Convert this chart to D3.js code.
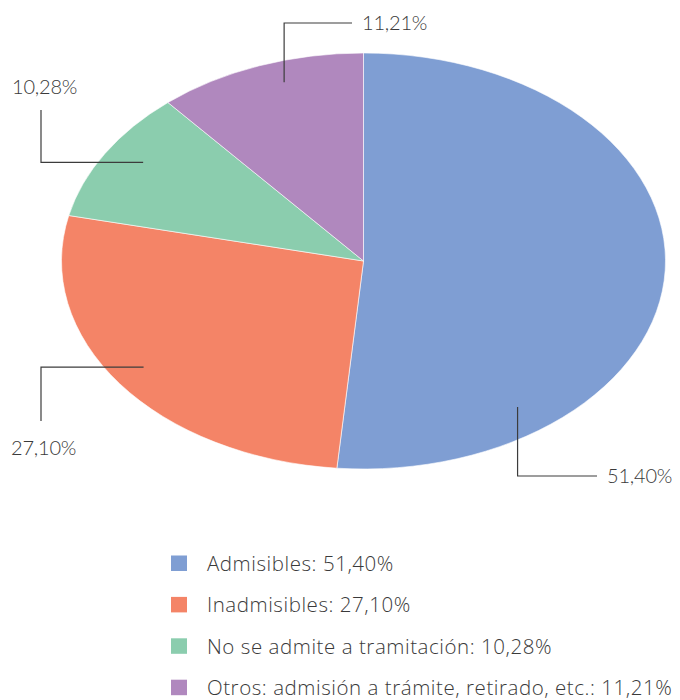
<!DOCTYPE html>
<html>
<head>
<meta charset="utf-8">
<script src="https://cdn.jsdelivr.net/npm/d3@7"></script>
<style>
  body { margin: 0; background: #fff; }
  svg { display: block; font-family: "Lato", "Noto Sans", sans-serif; }
</style>
</head>
<body>
<div id="chart"></div>
<script>
// data
const categories = ["Admisibles", "Inadmisibles", "No se admite a tramitación", "Otros: admisión a trámite, retirado, etc."];
const values = [51.40, 27.10, 10.28, 11.21];
const valueLabels = ["51,40%", "27,10%", "10,28%", "11,21%"];
const colors = ["#7f9ed3", "#f48467", "#8bcdae", "#b088be"];

const width = 680, height = 700;
const cx = 363.5, cy = 261;
const rx = 302, ry = 208;

const svg = d3.select("#chart").append("svg")
  .attr("width", width)
  .attr("height", height);

const pie = d3.pie().sort(null).value(d => d);
const arcs = pie(values);

const arc = d3.arc().innerRadius(0).outerRadius(ry);

// pie drawn as circle, stretched into an ellipse
const g = svg.append("g")
  .attr("transform", `translate(${cx},${cy}) scale(${rx / ry},1)`);

g.selectAll("path")
  .data(arcs)
  .join("path")
    .attr("d", arc)
    .attr("fill", (d, i) => colors[i])
    .attr("stroke", "#fff")
    .attr("stroke-width", 0.6)
    .attr("vector-effect", "non-scaling-stroke");

// leader lines: anchor angle (deg, clockwise from top), radius fraction, elbow and text placement
const leaders = [
  { angle: 144, r: 0.868, dir: "down-right", yEnd: 476, xEnd: 597, tx: 607, ty: 483 },
  { angle: 235, r: 0.889, dir: "left-down", xEnd: 41, yEnd: 421, tx: 11, ty: 455 },
  { angle: 303, r: 0.870, dir: "left-up", xEnd: 41, yEnd: 110, tx: 12, ty: 94 },
  { angle: 343, r: 0.899, dir: "up-right", yEnd: 23, xEnd: 352, tx: 362, ty: 30 }
];

function anchor(l) {
  const a = l.angle * Math.PI / 180;
  return [cx + rx * l.r * Math.sin(a), cy - ry * l.r * Math.cos(a)];
}

leaders.forEach((l, i) => {
  const [ax, ay] = anchor(l);
  let pts;
  if (l.dir === "down-right" || l.dir === "up-right") {
    pts = [[ax, ay], [ax, l.yEnd], [l.xEnd, l.yEnd]];
  } else {
    pts = [[ax, ay], [l.xEnd, ay], [l.xEnd, l.yEnd]];
  }
  svg.append("path")
    .attr("d", d3.line()(pts))
    .attr("fill", "none")
    .attr("stroke", "#3c3c3c")
    .attr("stroke-width", 1.2);

  svg.append("text")
    .attr("x", l.tx)
    .attr("y", l.ty)
    .attr("font-size", 20)
    .attr("font-weight", 300)
    .attr("letter-spacing", -0.2)
    .attr("fill", "#3a3a3a")
    .text(valueLabels[i]);
});

// legend
const legend = svg.append("g").attr("transform", "translate(171,555.5)");
const row = legend.selectAll("g")
  .data(categories)
  .join("g")
    .attr("transform", (d, i) => `translate(0,${i * 41.4})`);

row.append("rect")
  .attr("width", 16)
  .attr("height", 15.5)
  .attr("fill", (d, i) => colors[i]);

row.append("text")
  .attr("x", 36)
  .attr("y", 15.5)
  .attr("font-family", "'Open Sans', 'Noto Sans', sans-serif")
  .attr("font-size", 20.5)
  .attr("font-weight", 300)
  .attr("letter-spacing", 0.55)
  .attr("fill", "#3a3a3a")
  .text((d, i) => d + ": " + valueLabels[i]);
</script>
</body>
</html>
